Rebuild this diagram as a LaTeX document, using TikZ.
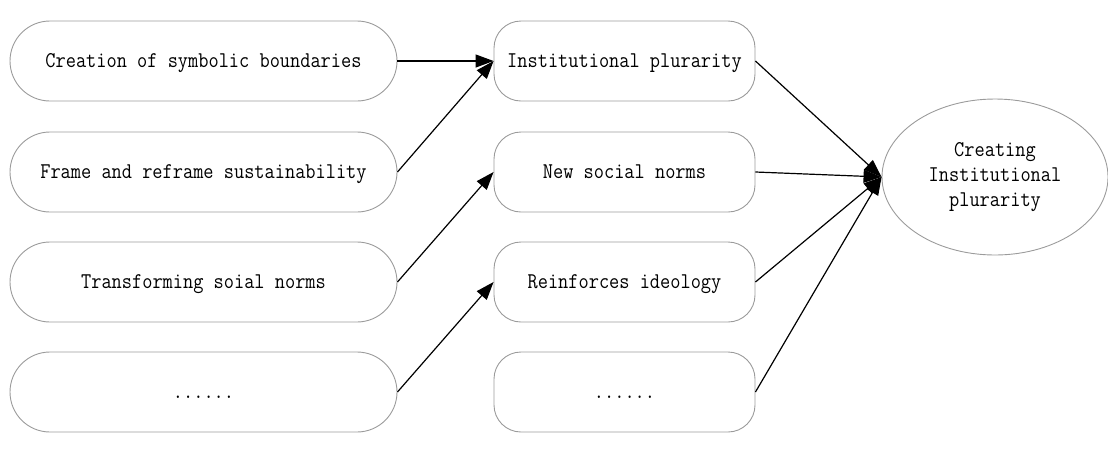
\documentclass[tikz,border=0pt]{standalone}
\usepackage{fontspec}
\setmonofont{Latin Modern Mono}[FakeStretch=0.88]
\usetikzlibrary{shapes.geometric,arrows.meta}
\definecolor{boxgray}{RGB}{155,155,155}
\begin{document}
\begin{tikzpicture}[x=1pt,y=-1pt,
  font=\fontsize{22.5}{25}\selectfont\ttfamily,
  leftbox/.style={draw=boxgray,line width=0.9pt,rounded corners=40pt,minimum width=387pt,minimum height=80pt,inner sep=0pt,text height=14pt,text depth=2pt},
  midbox/.style={draw=boxgray,line width=0.9pt,rounded corners=27pt,minimum width=261pt,minimum height=80pt,inner sep=0pt,text height=14pt,text depth=2pt},
  goalnode/.style={draw=boxgray,line width=0.9pt,ellipse,minimum width=226pt,minimum height=156pt,inner sep=0pt,align=center},
  arr/.style={line width=1.2pt,-{Triangle[length=18pt,width=13pt]}}]
\useasboundingbox (0,0) rectangle (1108,459);
\node[leftbox] (l1) at (203.5,61) {Creation of symbolic boundaries};
\node[leftbox] (l2) at (203.5,172) {Frame and reframe sustainability};
\node[leftbox] (l3) at (203.5,282) {Transforming soial norms};
\node[leftbox] (l4) at (203.5,392) {\bfseries......};
\node[midbox] (m1) at (624.5,61) {Institutional plurarity};
\node[midbox] (m2) at (624.5,172) {New social norms};
\node[midbox] (m3) at (624.5,282) {Reinforces ideology};
\node[midbox] (m4) at (624.5,392) {\bfseries......};
\node[goalnode] (g) at (995,177) {Creating\\Institutional\\plurarity};
\draw[arr] (l1.east) -- (m1.west);
\draw[arr] (l2.east) -- (m1.west);
\draw[arr] (l3.east) -- (m2.west);
\draw[arr] (l4.east) -- (m3.west);
\draw[arr] (m1.east) -- (g.west);
\draw[arr] (m2.east) -- (g.west);
\draw[arr] (m3.east) -- (g.west);
\draw[arr] (m4.east) -- (g.west);
\end{tikzpicture}
\end{document}
